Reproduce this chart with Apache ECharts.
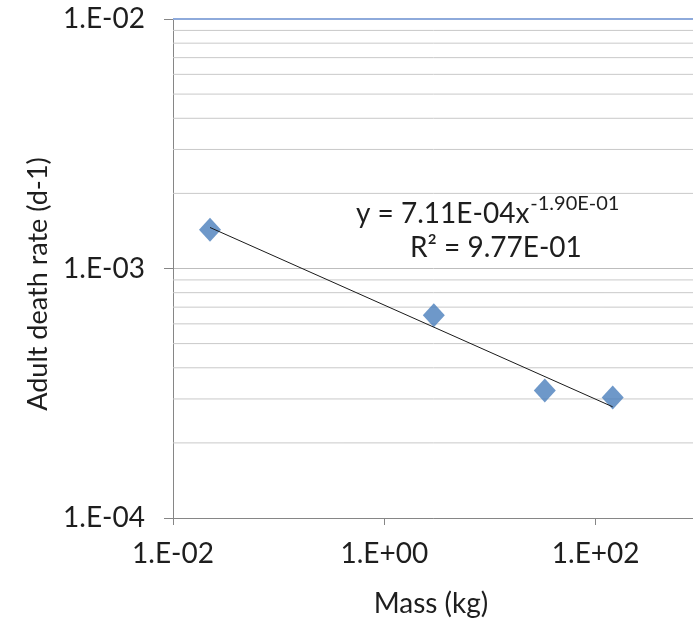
<!DOCTYPE html>
<html>
<head>
<meta charset="utf-8">
<script src="https://cdn.jsdelivr.net/npm/echarts@6/dist/echarts.min.js"></script>
<style>html,body{margin:0;padding:0;background:#fff}#c{width:693px;height:620px}</style>
</head>
<body>
<div id="c"></div>
<script>
// Data
const massKg = [0.0224, 2.94, 33, 145];
const deathRate = [1.43e-3, 6.5e-4, 3.24e-4, 3.04e-4];
// Power-law trendline end points (straight on log-log axes)
const trendX = [0.0224, 145];
const trendY = [1.46e-3, 2.79e-4];
// Minor horizontal gridlines (Excel log minor units)
const minorY = [2e-4,3e-4,4e-4,5e-4,6e-4,7e-4,8e-4,9e-4,2e-3,3e-3,4e-3,5e-3,6e-3,7e-3,8e-3,9e-3];
const xRange = [0.01, 1e4];
const yTopLine = 1e-2;
const xTitle = 'Mass (kg)';
const yTitle = 'Adult death rate (d-1)';
const eqMain = 'y = 7.11E-04x';
const eqExp = '-1.90E-01';
const r2Text = 'R² = 9.77E-01';

const FONT = 'Lato, "Open Sans", sans-serif';
const TXT = '#1e1e1e';
function sci(v) {
  const e = Math.round(Math.log10(v));
  return '1.E' + (e < 0 ? '-' : '+') + String(Math.abs(e)).padStart(2, '0');
}
function textWidth(t, size) {
  const ctx = document.createElement('canvas').getContext('2d');
  ctx.font = size + 'px ' + FONT;
  return ctx.measureText(t).width;
}

const gridSeries = minorY.map(v => ({
  type: 'line', data: [[xRange[0], v], [xRange[1], v]], symbol: 'none', silent: true,
  lineStyle: {color: '#c9c9c9', width: 1}, z: 1
}));
gridSeries.push({
  type: 'line', data: [[xRange[0], yTopLine], [xRange[1], yTopLine]], symbol: 'none', silent: true,
  lineStyle: {color: '#8eaadb', width: 2}, z: 1
});

const EQ = 28, SUP = 20;
const eqX = 356, eqY = 214;
const mainW = textWidth(eqMain, EQ);

const chart = echarts.init(document.getElementById('c'), null, {renderer: 'canvas'});
chart.setOption({
  animation: false,
  backgroundColor: '#fff',
  grid: {left: 173, top: 19, width: 634, height: 499, containLabel: false, outerBoundsMode: 'none'},
  xAxis: {
    type: 'log', logBase: 100, min: xRange[0], max: xRange[1], splitNumber: 3,
    axisLine: {show: true, lineStyle: {color: '#868686', width: 1}},
    axisTick: {show: true, inside: false, length: 7, lineStyle: {color: '#868686'}},
    axisLabel: {formatter: sci, fontSize: 28, color: TXT, fontFamily: FONT, margin: 22},
    splitLine: {show: false},
    minorTick: {show: false}, minorSplitLine: {show: false}
  },
  yAxis: {
    type: 'log', logBase: 10, min: 1e-4, max: 1e-2, splitNumber: 2,
    axisLine: {show: true, lineStyle: {color: '#868686', width: 1}},
    axisTick: {show: true, inside: false, length: 9, lineStyle: {color: '#868686'}},
    axisLabel: {formatter: sci, fontSize: 28, color: TXT, fontFamily: FONT, margin: 28},
    splitLine: {show: true, lineStyle: {color: '#bdbdbd', width: 1}},
    minorTick: {show: false}, minorSplitLine: {show: false}
  },
  series: gridSeries.concat([
    {
      type: 'line',
      data: trendX.map((x, i) => [x, trendY[i]]),
      symbol: 'none',
      lineStyle: {color: '#1a1a1a', width: 1},
      z: 3,
      silent: true
    },
    {
      type: 'scatter',
      data: massKg.map((x, i) => [x, deathRate[i]]),
      symbol: 'diamond',
      symbolSize: [22, 24],
      itemStyle: {color: '#4a7ebb'},
      z: 2
    }
  ]),
  graphic: [
    {
      type: 'text', x: 38, y: 284, rotation: Math.PI / 2,
      style: {text: yTitle, fontSize: 27, fontFamily: FONT, fill: TXT, align: 'center', verticalAlign: 'middle'}
    },
    {
      type: 'text', x: 431, y: 604,
      style: {text: xTitle, fontSize: 28, fontFamily: FONT, fill: TXT, align: 'center', verticalAlign: 'middle'}
    },
    {
      type: 'text', x: eqX, y: eqY,
      style: {text: eqMain, fontSize: EQ, fontFamily: FONT, fill: TXT, align: 'left', verticalAlign: 'middle'}
    },
    {
      type: 'text', x: eqX + mainW + 1, y: eqY - 10,
      style: {text: eqExp, fontSize: SUP, fontFamily: FONT, fill: TXT, align: 'left', verticalAlign: 'middle'}
    },
    {
      type: 'text', x: 410, y: 248,
      style: {text: r2Text, fontSize: EQ, fontFamily: FONT, fill: TXT, align: 'left', verticalAlign: 'middle'}
    }
  ]
});
</script>
</body>
</html>
